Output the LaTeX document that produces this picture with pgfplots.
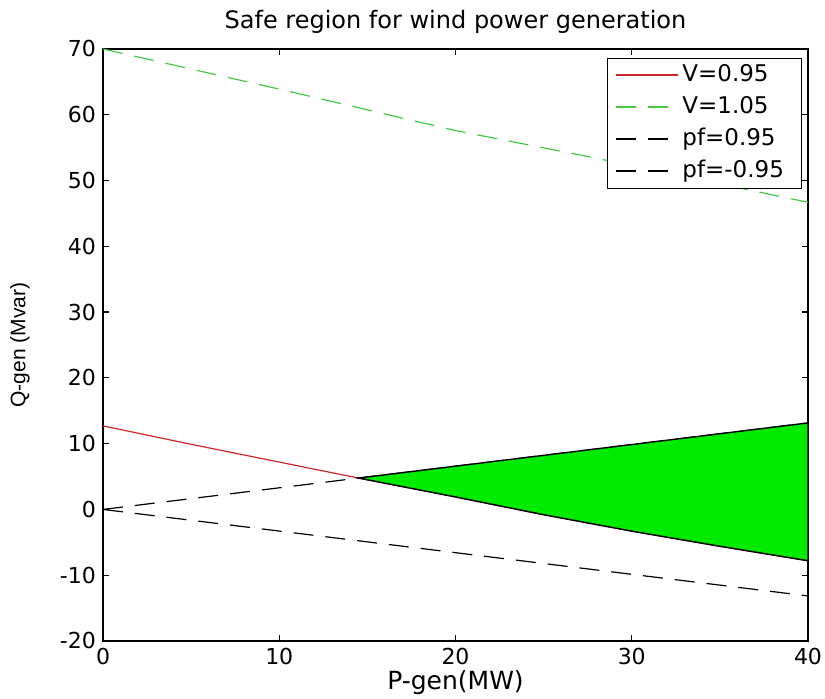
\documentclass[border=0pt]{standalone}
\usepackage{pgfplots}
\pgfplotsset{compat=1.18}
\usepackage{fontspec}
\setmainfont{DejaVu Sans}
\newfontfamily\narrowfont{Liberation Sans}

\definecolor{mlred}{RGB}{205,40,40}
\definecolor{mlgreen}{RGB}{70,200,70}
\definecolor{fillgreen}{RGB}{0,235,0}

\begin{document}
\begin{tikzpicture}
\begin{axis}[
    scale only axis,
    width=352.5pt,
    height=296pt,
    xmin=0, xmax=40,
    ymin=-20, ymax=70,
    xtick={0,10,20,30,40},
    ytick={-20,-10,0,10,20,30,40,50,60,70},
    tick align=inside,
    major tick length=3pt,
    axis line style={line width=0.8pt},
    every tick/.style={black,line width=0.6pt},
    tick label style={font=\fontsize{11}{13}\selectfont},
    /pgf/number format/assume math mode=true,
    every axis title shift=0pt,
    title={Safe region for wind power generation},
    title style={font=\fontsize{12}{14}\selectfont,
        at={(axis description cs:0.5,1.0456)}, anchor=center},
    xlabel={P-gen(MW)},
    ylabel={Q-gen (Mvar)},
    xlabel style={font=\fontsize{12.5}{15}\selectfont,
        at={(axis description cs:0.5,-0.0709)}, anchor=center},
    ylabel style={font=\narrowfont\fontsize{10.5}{12}\selectfont,
        at={(axis description cs:-0.1177,0.5)}, anchor=center},
    legend style={at={(0.9915,0.9848)}, anchor=north east, draw=black,
        line width=0.6pt, font=\fontsize{11.5}{13}\selectfont,
        inner xsep=3.75pt, inner ysep=0.5pt, row sep=0pt, legend cell align=left,
        nodes={inner xsep=1.5pt, inner ysep=2pt, text height=9pt, text depth=3pt}},
    legend image code/.code={\draw[#1, line width=1.2pt] (0pt,0.25pt) -- (31pt,0.25pt);},
]
\coordinate (bl) at (rel axis cs:0,0);
\coordinate (tr) at (rel axis cs:1,1);
\addplot[mlred, line width=0.6pt] coordinates {
    (0,12.7) (5,9.9) (10,7.2) (14.5,4.77) (20,1.9) (25,-0.8) (30,-3.3) (35,-5.6) (40,-7.8)};
\addlegendentry{V=0.95}
\addplot[mlgreen, line width=0.6pt, dash pattern=on 10pt off 6pt] coordinates {
    (0,70) (10,63.9) (20,57.6) (27.8,53.5) (40,46.7)};
\addlegendentry{V=1.05}
\addplot[black, line width=0.6pt, dash pattern=on 10pt off 6pt] coordinates {
    (0,0) (40,13.15)};
\addlegendentry{pf=0.95}
\addplot[black, line width=0.6pt, dash pattern=on 10pt off 6pt] coordinates {
    (0,0) (40,-13.15)};
\addlegendentry{pf=-0.95\hspace*{3.5pt}}
\addplot[fill=fillgreen, draw=black, line width=0.7pt, forget plot] coordinates {
    (14.5,4.77) (40,13.15) (40,-7.8) (35,-5.6) (30,-3.3) (25,-0.8) (20,1.9) (14.5,4.77)} -- cycle;
\end{axis}
\pgfresetboundingbox
\path[use as bounding box] ([shift={(-51.5pt,-29pt)}]bl) rectangle ([shift={(8.5pt,24.5pt)}]tr);
\end{tikzpicture}
\end{document}
